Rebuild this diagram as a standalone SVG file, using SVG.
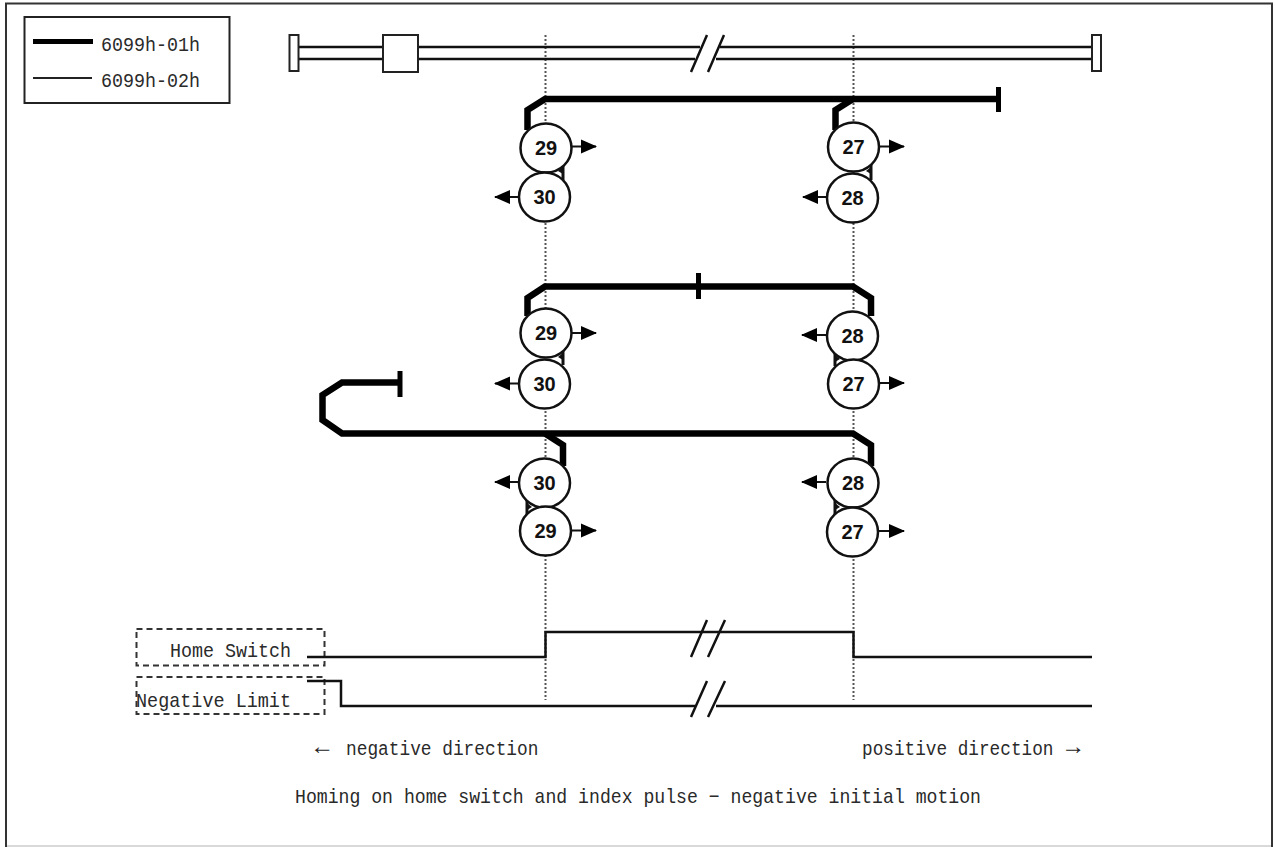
<svg xmlns="http://www.w3.org/2000/svg" width="1275" height="847" viewBox="0 0 1275 847">
<defs>
<marker id="ah" viewBox="0 0 16 16" refX="15" refY="8" markerWidth="16" markerHeight="16" markerUnits="userSpaceOnUse" orient="auto"><path d="M0 1L16 8L0 15Z" fill="#000"/></marker>
</defs>
<style>
.lab{font-family:"Liberation Mono","DejaVu Sans Mono",monospace;font-size:21px;fill:#2a2a2a}
.cap{font-family:"Liberation Mono","DejaVu Sans Mono",monospace;font-size:18px;fill:#2a2a2a}
.ar{font-family:"Liberation Mono","DejaVu Sans Mono",monospace;font-size:24px;font-weight:700;fill:#222}
.num{font-family:"Liberation Sans",Arial,sans-serif;font-size:20px;font-weight:700;fill:#111;text-anchor:middle}
.c{fill:#fff;stroke:#111;stroke-width:2.500}
.thick{fill:none;stroke:#000;stroke-width:6.500}
.stub{fill:none;stroke:#111;stroke-width:3}
.wedge{fill:#111}
.arr{fill:none;stroke:#111;stroke-width:2;marker-end:url(#ah)}
.dot{fill:none;stroke:#555;stroke-width:2;stroke-dasharray:2 2}
.dash{fill:#fff;stroke:#333;stroke-width:2;stroke-dasharray:6 4}
.box{fill:#fff;stroke:#222;stroke-width:2}
.line{fill:none;stroke:#111;stroke-width:2.500}
</style>
<rect width="1275" height="847" fill="#fff"/>
<path d="M6 846H1272" stroke="#ccc" stroke-width="1.500" fill="none"/>
<path d="M6 847V3.500H1272V847" fill="none" stroke="#333" stroke-width="2"/>
<g id="legend">
<rect class="box" x="24.500" y="17" width="205" height="86"/>
<path d="M33 41.500H93" stroke="#000" stroke-width="5" fill="none"/>
<path d="M33 78H92" stroke="#222" stroke-width="2" fill="none"/>
<text class="lab" x="101" y="51" textLength="99" lengthAdjust="spacingAndGlyphs">6099h-01h</text>
<text class="lab" x="101" y="87" textLength="99" lengthAdjust="spacingAndGlyphs">6099h-02h</text>
</g>
<g id="guides">
<path class="dot" d="M545.500 35V700"/>
<path class="dot" d="M853.500 35V700"/>
</g>
<g id="rail">
<path class="line" d="M299 47H700M299 59H695M720 47H1092M716 59H1092"/>
<path class="line" d="M691 72L707 35M708 72L724 35"/>
<rect class="box" x="289.500" y="35" width="9" height="36"/>
<rect class="box" x="1092" y="35" width="9" height="36"/>
<rect class="box" x="383" y="35" width="35" height="37"/>
</g>
<g id="connectors">
<path class="thick" d="M527.500 130V110L545 99H998"/>
<path class="thick" d="M835.500 130V110L853 99"/>
<path d="M998.500 87V112" stroke="#000" stroke-width="5"/>
<path class="thick" d="M527.500 316V298L545 286.500H853L871 298V316"/>
<path d="M698.500 273V299" stroke="#000" stroke-width="5"/>
<path class="thick" d="M400 382.500H342L322.500 395V420L342 433.500H853L871 445V466"/>
<path class="thick" d="M545 433.500L563 445V466"/>
<path d="M400 371V397" stroke="#000" stroke-width="5"/>
<path class="stub" d="M563 165V180"/><path class="wedge" d="M558 171L563 167V174Z"/>
<path class="stub" d="M871 165V180"/><path class="wedge" d="M866 171L871 167V174Z"/>
<path class="stub" d="M563 350V365"/><path class="wedge" d="M558 357L563 353V360Z"/>
<path class="stub" d="M835 350V366"/><path class="wedge" d="M840 359L835 355V362Z"/>
<path class="stub" d="M527 500V515"/><path class="wedge" d="M532 507L527 503V510Z"/>
<path class="stub" d="M835 500V515"/><path class="wedge" d="M840 507L835 503V510Z"/>
<path class="arr" d="M570 146.500H596"/>
<path class="arr" d="M519 197H495"/>
<path class="arr" d="M878 146.500H904"/>
<path class="arr" d="M827 197H803"/>
<path class="arr" d="M570 333H596"/>
<path class="arr" d="M519 383.500H495"/>
<path class="arr" d="M826 335H802"/>
<path class="arr" d="M878 383H904"/>
<path class="arr" d="M519 482H495"/>
<path class="arr" d="M570 530.500H596"/>
<path class="arr" d="M826 482H802"/>
<path class="arr" d="M878 531H904"/>
</g>
<g id="n29a"><ellipse class="c" cx="546" cy="148" rx="25.500" ry="24.500"/><text class="num" x="546" y="155">29</text></g>
<g id="n30a"><ellipse class="c" cx="544.500" cy="197" rx="25.500" ry="24.500"/><text class="num" x="544.500" y="204">30</text></g>
<g id="n27a"><ellipse class="c" cx="853.500" cy="147" rx="25.500" ry="24.500"/><text class="num" x="853.500" y="154">27</text></g>
<g id="n28a"><ellipse class="c" cx="852.500" cy="198" rx="25.500" ry="24.500"/><text class="num" x="852.500" y="205">28</text></g>
<g id="n29b"><ellipse class="c" cx="546" cy="333" rx="25.500" ry="24.500"/><text class="num" x="546" y="340">29</text></g>
<g id="n30b"><ellipse class="c" cx="544.500" cy="384" rx="25.500" ry="24.500"/><text class="num" x="544.500" y="391">30</text></g>
<g id="n28b"><ellipse class="c" cx="852.500" cy="336" rx="25.500" ry="24.500"/><text class="num" x="852.500" y="343">28</text></g>
<g id="n27b"><ellipse class="c" cx="853.500" cy="384" rx="25.500" ry="24.500"/><text class="num" x="853.500" y="391">27</text></g>
<g id="n30c"><ellipse class="c" cx="544.500" cy="483" rx="25.500" ry="24.500"/><text class="num" x="544.500" y="490">30</text></g>
<g id="n29c"><ellipse class="c" cx="545.500" cy="531" rx="25.500" ry="24.500"/><text class="num" x="545.500" y="538">29</text></g>
<g id="n28c"><ellipse class="c" cx="853" cy="483" rx="25.500" ry="24.500"/><text class="num" x="853" y="490">28</text></g>
<g id="n27c"><ellipse class="c" cx="852.500" cy="532" rx="25.500" ry="24.500"/><text class="num" x="852.500" y="539">27</text></g>
<g id="home-switch">
<rect class="dash" x="136.500" y="629" width="188" height="36.500"/>
<text class="lab" x="170" y="657" textLength="121" lengthAdjust="spacingAndGlyphs">Home Switch</text>
<path class="line" d="M307 657H545.500V632H853.500V657H1092"/>
<path class="line" d="M691 657L707 620M708 657L725 620"/>
</g>
<g id="negative-limit">
<rect class="dash" x="136.500" y="677" width="188" height="37"/>
<text class="lab" x="136" y="707" textLength="155" lengthAdjust="spacingAndGlyphs">Negative Limit</text>
<path class="line" d="M307 681H341V706H695M716 706H1092"/>
<path class="line" d="M691 717L707 681M708 717L725 681"/>
</g>
<g id="captions">
<text class="ar" x="315" y="754">←</text>
<text class="cap" transform="translate(346 755) scale(.99 1.16)">negative direction</text>
<text class="cap" transform="translate(862 755) scale(.985 1.16)">positive direction</text>
<text class="ar" x="1066" y="754">→</text>
<text class="lab" x="295" y="803" textLength="686" lengthAdjust="spacingAndGlyphs">Homing on home switch and index pulse − negative initial motion</text>
</g>
</svg>
